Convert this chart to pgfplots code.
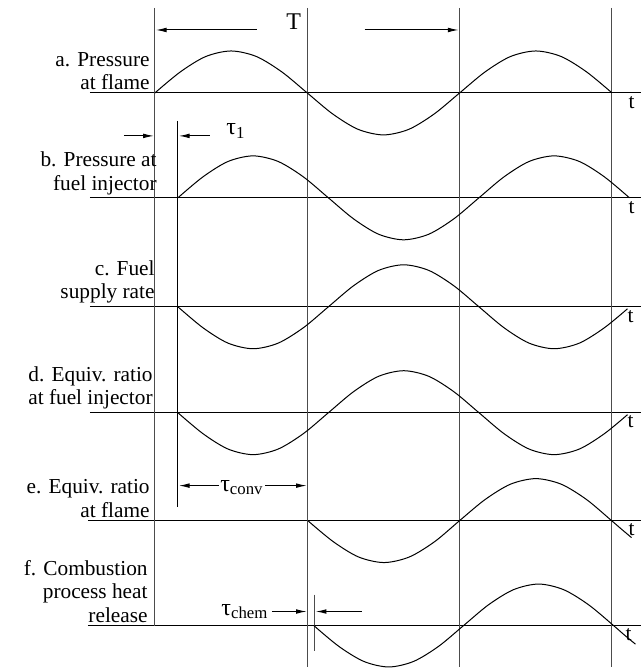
\documentclass[border=0pt]{standalone}
\usepackage{pgfplots}
\pgfplotsset{compat=1.18}
\usepackage{fontspec}
\setmainfont{Liberation Serif}
\usetikzlibrary{arrows.meta}

\begin{document}
\begin{tikzpicture}
\tikzset{
  ln/.style={black, line width=0.75pt},
  gl/.style={black!70, line width=0.8pt},
  arr/.style={-{Latex[length=8pt,width=3.5pt]}, black, line width=0.75pt},
  lab/.style={anchor=south east, inner sep=0pt, align=right, font=\fontsize{16}{17.5}\selectfont},
  tl/.style={anchor=north, inner sep=0pt, font=\fontsize{16}{17.5}\selectfont},
}
\begin{axis}[
  scale only axis,
  width=481.5pt, height=501pt,
  xmin=0, xmax=642, ymin=0, ymax=668,
  y dir=reverse,
  hide axis,
  clip=false,
]
\path (axis cs:0,0) rectangle (axis cs:642,668);

% time axes (one per row)
\draw[ln] (axis cs:90,93)  -- (axis cs:642,93);
\draw[ln] (axis cs:90,198) -- (axis cs:642,198);
\draw[ln] (axis cs:90,307) -- (axis cs:642,307);
\draw[ln] (axis cs:90,413) -- (axis cs:642,413);
\draw[ln] (axis cs:88,521) -- (axis cs:642,521);
\draw[ln] (axis cs:88,626) -- (axis cs:642,626);

% vertical reference lines
\draw[gl] (axis cs:155,8)   -- (axis cs:155,626);
\draw[ln] (axis cs:178,121) -- (axis cs:178,507);
\draw[gl] (axis cs:308,8)   -- (axis cs:308,668);
\draw[gl] (axis cs:460,8)   -- (axis cs:460,668);
\draw[gl] (axis cs:612,8)   -- (axis cs:612,668);
\draw[gl] (axis cs:315,595) -- (axis cs:315,652);

% a. pressure at flame
\addplot[ln, smooth, no markers] coordinates {
  (155,93) (180.4,72) (205.8,56.6) (231.3,51) (256.7,56.6) (282.1,72)
  (307.5,93) (332.9,114) (358.3,129.4) (383.8,135) (409.2,129.4) (434.6,114)
  (460,93) (485.4,72) (510.8,56.6) (536.3,51) (561.7,56.6) (587.1,72) (612.5,93)
};
% b. pressure at fuel injector
\addplot[ln, smooth, no markers] coordinates {
  (178,198) (203.1,177) (228.2,161.6) (253.3,156) (278.4,161.6) (303.6,177)
  (328.7,198) (353.8,219) (378.9,234.4) (404,240) (429.1,234.4) (454.2,219)
  (479.3,198) (504.4,177) (529.5,161.6) (554.6,156) (579.8,161.6) (604.9,177) (630,198)
};
% c. fuel supply rate
\addplot[ln, smooth, no markers] coordinates {
  (178,307) (203.1,328) (228.2,343.4) (253.3,349) (278.4,343.4) (303.6,328)
  (328.7,307) (353.8,286) (378.9,270.6) (404,265) (429.1,270.6) (454.2,286)
  (479.3,307) (504.4,328) (529.5,343.4) (554.6,349) (579.8,343.4) (604.9,328) (628,309)
};
% d. equivalence ratio at fuel injector
\addplot[ln, smooth, no markers] coordinates {
  (178,413) (203.1,434) (228.2,449.4) (253.3,455) (278.4,449.4) (303.6,434)
  (328.7,413) (353.8,392) (378.9,376.6) (404,371) (429.1,376.6) (454.2,392)
  (479.3,413) (504.4,434) (529.5,449.4) (554.6,455) (579.8,449.4) (604.9,434) (628,415)
};
% e. equivalence ratio at flame
\addplot[ln, smooth, no markers] coordinates {
  (308,521) (333.4,542) (358.8,557.4) (384.3,563) (409.7,557.4) (435.1,542)
  (460,521) (485.4,500) (510.8,484.6) (536.3,479) (561.7,484.6) (587.1,500)
  (612,521) (622,529.6) (632,538)
};
% f. combustion process heat release
\addplot[ln, smooth, no markers] coordinates {
  (314,626) (339,646.8) (364,661.9) (389,667.5) (414,661.9) (439,646.8)
  (464,626) (489,605.2) (514,590.1) (539,584.5) (564,590.1) (589,605.2)
  (614,626) (625,635.6) (636,644.7)
};

% row labels
\node[lab] at (axis cs:150,90)  {a. Pressure\\at flame};
\node[lab] at (axis cs:157,195) {b. Pressure at\\fuel injector};
\node[lab] at (axis cs:155,304) {c. Fuel\\supply rate};
\node[lab] at (axis cs:153,410) {d. Equiv. ratio\\at fuel injector};
\node[lab] at (axis cs:150,518) {e. Equiv. ratio\\at flame};
\node[lab] at (axis cs:148,623) {f. Combustion\\process heat\\release};

% t labels
\node[tl] at (axis cs:632,96)  {t};
\node[tl] at (axis cs:632,201) {t};
\node[tl] at (axis cs:631,310) {t};
\node[tl] at (axis cs:631,416) {t};
\node[tl] at (axis cs:632,524) {t};
\node[tl] at (axis cs:629,629) {t};

% period T
\draw[arr] (axis cs:257,30) -- (axis cs:156,30);
\draw[arr] (axis cs:365,30) -- (axis cs:459,30);
\node[inner sep=0pt, font=\fontsize{18}{19}\selectfont] at (axis cs:294,22) {T};

% tau_1
\draw[arr] (axis cs:124,136) -- (axis cs:154,136);
\draw[arr] (axis cs:210,136) -- (axis cs:179,136);
\node[inner sep=0pt, font=\fontsize{18}{19}\selectfont] at (axis cs:236,131) {τ\textsubscript{1}};

% tau_conv
\draw[{Latex[length=8pt,width=3.5pt]}-{Latex[length=8pt,width=3.5pt]}, black, line width=0.75pt]
  (axis cs:179,486) -- (axis cs:307,486);
\node[fill=white, inner sep=1pt, font=\fontsize{18}{19}\selectfont] at (axis cs:242,488) {τ\textsubscript{conv}};

% tau_chem
\node[inner sep=0pt, font=\fontsize{18}{19}\selectfont] at (axis cs:245,612) {τ\textsubscript{chem}};
\draw[arr] (axis cs:272,612) -- (axis cs:307,612);
\draw[arr] (axis cs:362,612) -- (axis cs:316,612);
\end{axis}
\end{tikzpicture}
\end{document}
